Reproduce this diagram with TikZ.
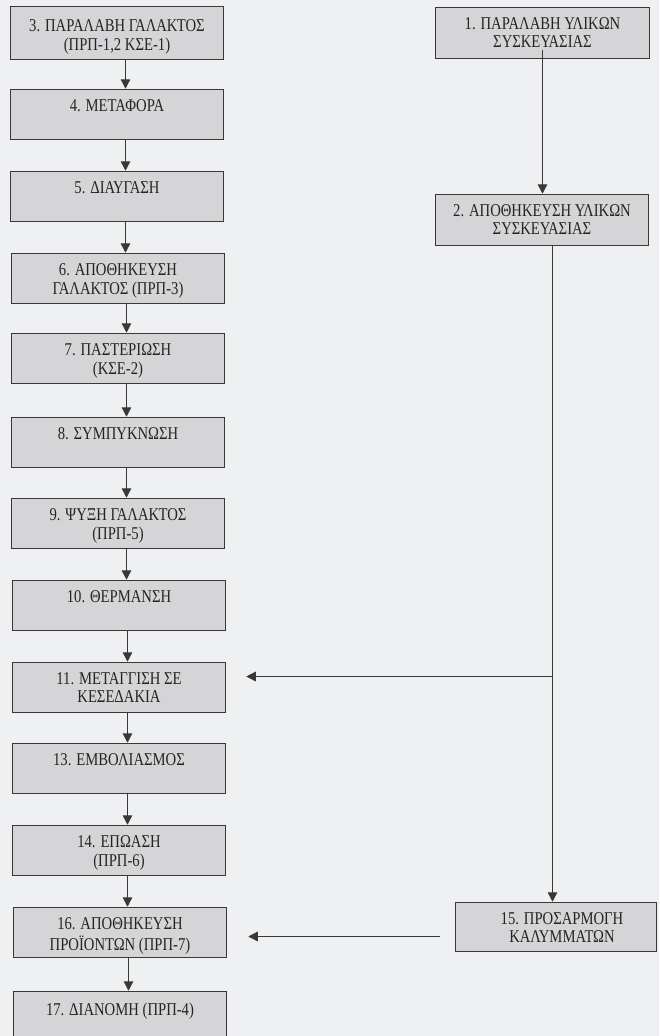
\documentclass[tikz,border=0pt]{standalone}
\usepackage{fontspec}
\setmainfont{Liberation Serif}[FakeStretch=0.815]
\usetikzlibrary{arrows.meta}
\definecolor{paper}{HTML}{EEF0F2}
\definecolor{boxfill}{HTML}{D5D5D7}
\definecolor{ink}{HTML}{383838}
\definecolor{txt}{HTML}{242424}
\begin{document}
\begin{tikzpicture}[x=1pt,y=-1pt,
  stepbox/.style={draw=ink, line width=1.5pt, fill=boxfill, minimum width=213pt,
    minimum height=50pt, inner sep=0pt},
  steptext/.style={anchor=north, align=center, inner sep=0pt, text=txt,
    font=\fontsize{18}{17.5}\selectfont, yshift=-10.5pt},
  arr/.style={draw=ink, line width=1.3pt, -{Triangle[width=9.5pt,length=9.5pt]}}]
\fill[paper] (0,0) rectangle (659,1036);
\useasboundingbox (0,0) rectangle (659,1036);
% left column boxes
\node[stepbox, minimum height=53pt] (n3) at (117,33) {};
\node[stepbox] (n4) at (117,114.5) {};
\node[stepbox] (n5) at (117,196.5) {};
\node[stepbox] (n6) at (118,278.5) {};
\node[stepbox] (n7) at (118,358.5) {};
\node[stepbox] (n8) at (118,442.5) {};
\node[stepbox] (n9) at (118,523.5) {};
\node[stepbox] (n10) at (119,605.5) {};
\node[stepbox] (n11) at (119,687.5) {};
\node[stepbox] (n13) at (119,768.5) {};
\node[stepbox] (n14) at (119,850.5) {};
\node[stepbox] (n16) at (120,932.5) {};
\node[stepbox] (n17) at (120,1016.5) {};
% right column boxes
\node[stepbox, minimum width=214pt, minimum height=51pt] (n1) at (542.5,33) {};
\node[stepbox, minimum height=51pt] (n2) at (542,220) {};
\node[stepbox, minimum width=201pt, minimum height=49pt] (n15) at (556,927) {};
% texts
\node[steptext, yshift=-3pt] (t3) at (n3.north) {\strut 3. ΠΑΡΑΛΑΒΗ ΓΑΛΑΚΤΟΣ\\\strut (ΠΡΠ-1,2 ΚΣΕ-1)};
\node[steptext] (t4) at (n4.north) {\strut 4. ΜΕΤΑΦΟΡΑ};
\node[steptext] (t5) at (n5.north) {\strut 5. ΔΙΑΥΓΑΣΗ};
\node[steptext] (t6) at (n6.north) {\strut 6. ΑΠΟΘΗΚΕΥΣΗ\\\strut ΓΑΛΑΚΤΟΣ (ΠΡΠ-3)};
\node[steptext] (t7) at (n7.north) {\strut 7. ΠΑΣΤΕΡΙΩΣΗ\\\strut (ΚΣΕ-2)};
\node[steptext] (t8) at (n8.north) {\strut 8. ΣΥΜΠΥΚΝΩΣΗ};
\node[steptext] (t9) at (n9.north) {\strut 9. ΨΥΞΗ ΓΑΛΑΚΤΟΣ\\\strut (ΠΡΠ-5)};
\node[steptext] (t10) at (n10.north) {\strut 10. ΘΕΡΜΑΝΣΗ};
\node[steptext] (t11) at (n11.north) {\strut 11. ΜΕΤΑΓΓΙΣΗ ΣΕ\\\strut ΚΕΣΕΔΑΚΙΑ};
\node[steptext] (t13) at (n13.north) {\strut 13. ΕΜΒΟΛΙΑΣΜΟΣ};
\node[steptext] (t14) at (n14.north) {\strut 14. ΕΠΩΑΣΗ\\\strut (ΠΡΠ-6)};
\node[steptext] (t16) at (n16.north) {\strut 16. ΑΠΟΘΗΚΕΥΣΗ\\\strut ΠΡΟΪΟΝΤΩΝ (ΠΡΠ-7)};
\node[steptext, yshift=-1.5pt] (t17) at (n17.north) {\strut 17. ΔΙΑΝΟΜΗ (ΠΡΠ-4)};
\node[steptext] (t1) at (n1.north) {\strut 1. ΠΑΡΑΛΑΒΗ ΥΛΙΚΩΝ\\\strut ΣΥΣΚΕΥΑΣΙΑΣ};
\node[steptext] (t2) at (n2.north) {\strut 2. ΑΠΟΘΗΚΕΥΣΗ ΥΛΙΚΩΝ\\\strut ΣΥΣΚΕΥΑΣΙΑΣ};
\node[steptext, xshift=6pt] (t15) at (n15.north) {\strut 15. ΠΡΟΣΑΡΜΟΓΗ\\\strut ΚΑΛΥΜΜΑΤΩΝ};
% helper coordinates
\coordinate (rx) at (552.5,0);
\coordinate (br) at (552.5,676.5);
\coordinate (a15) at (440,936.5);
% left column arrows
\foreach \a/\b in {n3/n4,n4/n5,n5/n6,n6/n7,n7/n8,n8/n9,n9/n10,n10/n11,n11/n13,n13/n14,n14/n16,n16/n17}
  \draw[arr] ([xshift=8.5pt]\a.south) -- ([xshift=8.5pt]\a.south |- \b.north);
% right column
\draw[arr] ([yshift=9pt]n1.south) -- (n1.south |- n2.north);
\draw[arr] (n2.south -| rx) -- (n15.north -| rx);
\draw[arr, shorten >=20pt] (br) -- (br -| n11.east);
\draw[arr, shorten >=21pt] (a15) -- (a15 -| n16.east);
\end{tikzpicture}
\end{document}
